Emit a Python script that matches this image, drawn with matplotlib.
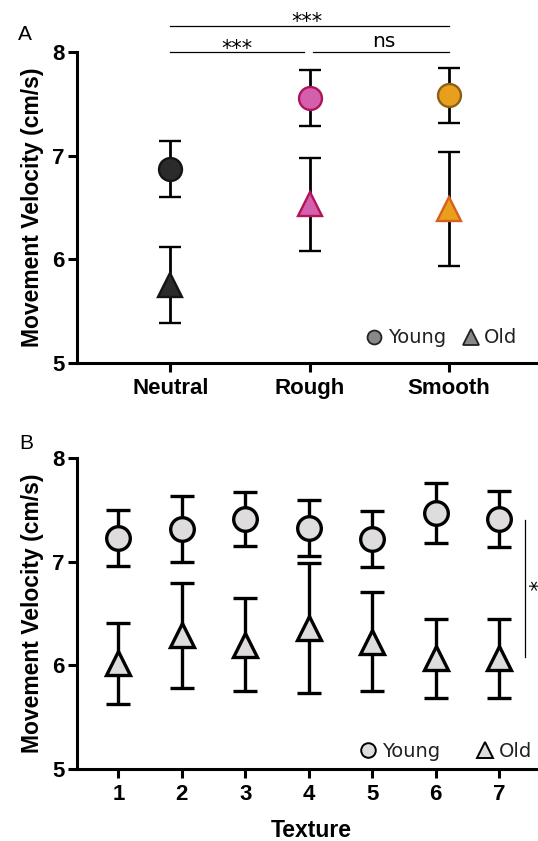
import numpy as np
import matplotlib.pyplot as plt
from matplotlib.lines import Line2D

# Panel A data: texture category means and errors
cats_a = ["Neutral", "Rough", "Smooth"]
young_a = [6.87, 7.56, 7.58]
young_a_err = [0.27, 0.27, 0.27]
old_a = [5.75, 6.53, 6.48]
old_a_err = [0.37, 0.45, 0.55]
fill_a = ["#2b2b2b", "#d45fac", "#e8a01c"]
edge_young_a = ["#141414", "#b0155a", "#8c6018"]
edge_old_a = ["#141414", "#b0155a", "#d8601a"]

# Panel B data: textures 1-7
textures = [1, 2, 3, 4, 5, 6, 7]
young_b = [7.23, 7.32, 7.41, 7.33, 7.22, 7.47, 7.41]
young_b_err = [0.27, 0.32, 0.26, 0.27, 0.27, 0.29, 0.27]
old_b = [6.02, 6.29, 6.20, 6.36, 6.23, 6.07, 6.07]
old_b_err = [0.39, 0.51, 0.45, 0.63, 0.48, 0.38, 0.38]

plt.rcParams["font.family"] = ["Liberation Sans", "DejaVu Sans"]

W, H = 538, 841
fig = plt.figure(figsize=(W / 100, H / 100), dpi=100)
# axes boxes from pixel positions (left, bottom, width, height)
ax_a = fig.add_axes([77 / W, 1 - 362.7 / H, (W - 77) / W, 310.7 / H])
ax_b = fig.add_axes([77 / W, 1 - 769 / H, (W - 77) / W, 310.7 / H])


def style_axes(ax):
    for side in ["top", "right"]:
        ax.spines[side].set_visible(False)
    for side in ["left", "bottom"]:
        ax.spines[side].set_linewidth(2.2)
    ax.tick_params(width=2.2, length=6.5, labelsize=16)
    ax.tick_params(axis="y", pad=2.5)
    ax.tick_params(axis="x", pad=4.5)
    for lab in ax.get_xticklabels() + ax.get_yticklabels():
        lab.set_fontweight("bold")
    ax.set_ylim(5, 8)
    ax.set_yticks([5, 6, 7, 8])
    ax.set_ylabel("Movement Velocity (cm/s)", fontsize=16.5, fontweight="bold", labelpad=6)


# ---- Panel A ----
xa = np.arange(len(cats_a))
for i in range(len(cats_a)):
    ax_a.errorbar(xa[i], young_a[i], yerr=young_a_err[i], fmt="o", ms=16.5,
                  mfc=fill_a[i], mec=edge_young_a[i], mew=1.7, ecolor="black",
                  elinewidth=2.0, capsize=8, capthick=2.0, zorder=3)
    ax_a.errorbar(xa[i], old_a[i], yerr=old_a_err[i], fmt="^", ms=17,
                  mfc=fill_a[i], mec=edge_old_a[i], mew=1.7, ecolor="black",
                  elinewidth=2.0, capsize=8, capthick=2.0, zorder=3)
ax_a.set_xlim(-0.670, 2.638)
ax_a.set_xticks(xa)
ax_a.set_xticklabels(cats_a)
style_axes(ax_a)

# significance brackets
ax_a.plot([0, 2], [8.251, 8.251], color="black", lw=0.9, clip_on=False)
ax_a.plot([0, 0.958], [8.0, 8.0], color="black", lw=0.9, clip_on=False)
ax_a.plot([1.027, 2], [8.0, 8.0], color="black", lw=0.9, clip_on=False)
star_font = {"family": "DejaVu Sans", "size": 15}
ax_a.text(0.98, 8.232, "***", ha="center", va="baseline", fontdict=star_font, clip_on=False)
ax_a.text(0.479, 7.974, "***", ha="center", va="baseline", fontdict=star_font, clip_on=False)
ax_a.text(1.535, 8.05, "ns", ha="center", va="baseline", family="DejaVu Sans", fontsize=14.5,
          clip_on=False)

handles_a = [
    Line2D([], [], ls="", marker="o", ms=10, mfc="#888888", mec="#222222", mew=1.3),
    Line2D([], [], ls="", marker="^", ms=11, mfc="#888888", mec="#222222", mew=1.3),
]
leg = ax_a.legend(handles_a, ["Young", "Old"], ncol=2, loc="center left",
                  bbox_to_anchor=(0.628, 0.0795), frameon=False,
                  handlelength=0.8, handletextpad=0.3, columnspacing=0.87,
                  borderpad=0, borderaxespad=0, prop={"family": "DejaVu Sans", "size": 14})
for t in leg.get_texts():
    t.set_color("#222222")

fig.text(25 / W, 1 - 34.2 / H, "A", fontsize=15, ha="center", va="center")

# ---- Panel B ----
ax_b.errorbar(textures, young_b, yerr=young_b_err, fmt="o", ms=17,
              mfc="#dedcdc", mec="black", mew=2.4, ecolor="black",
              elinewidth=2.4, capsize=8.8, capthick=2.4, zorder=3)
ax_b.errorbar(textures, old_b, yerr=old_b_err, fmt="^", ms=17,
              mfc="#dedcdc", mec="black", mew=2.4, ecolor="black",
              elinewidth=2.4, capsize=8.8, capthick=2.4, zorder=3)
ax_b.set_xlim(0.348, 7.61)
ax_b.set_xticks(textures)
style_axes(ax_b)
fig.text(311 / W, 1 - 836.7 / H, "Texture", fontsize=16.5, fontweight="bold",
         ha="center", va="baseline")

ax_b.plot([7.405, 7.405], [6.085, 7.405], color="black", lw=0.9, clip_on=False)
ax_b.text(7.594, 6.77, "*", rotation=-90, ha="right", va="center",
          family="DejaVu Sans", fontsize=15, clip_on=False)

handles_b = [
    Line2D([], [], ls="", marker="o", ms=10.5, mfc="#dedcdc", mec="black", mew=1.4),
    Line2D([], [], ls="", marker="^", ms=12, mfc="#dedcdc", mec="black", mew=1.4),
]
leg_b = ax_b.legend(handles_b, ["Young", "Old"], ncol=2, loc="center left",
                    bbox_to_anchor=(0.6145, 0.0557), frameon=False,
                    handlelength=0.8, handletextpad=0.3, columnspacing=1.95,
                    borderpad=0, borderaxespad=0, prop={"family": "DejaVu Sans", "size": 14})
for t in leg_b.get_texts():
    t.set_color("#222222")

fig.text(26.6 / W, 1 - 444 / H, "B", fontsize=15, ha="center", va="center")

fig.savefig("out.png", dpi=100)
